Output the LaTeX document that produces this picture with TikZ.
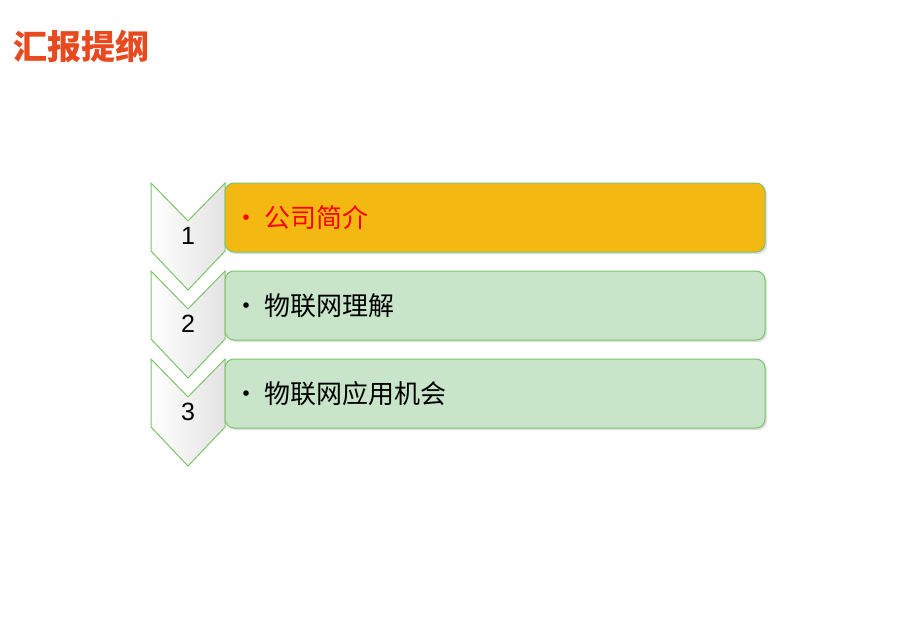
\documentclass[tikz,border=0pt]{standalone}
\usepackage{fontspec}
\setmainfont{Liberation Sans}
\newfontfamily\cjk{Noto Sans CJK SC}
\usepackage{tikz}
\usetikzlibrary{positioning,shadows}
\definecolor{titlered}{HTML}{E8491F}
\definecolor{edgegreen}{HTML}{7CC46A}
\definecolor{boxgreen}{HTML}{C8E5C9}
\definecolor{boxorange}{HTML}{F4B812}
\tikzstyle{chevron} = [draw=edgegreen, line width=1pt, left color=white, right color=gray!22, line join=miter]
\tikzstyle{item} = [rectangle, draw=edgegreen, line width=1pt, fill=boxgreen, rounded corners=9pt, minimum width=540pt, minimum height=69pt, drop shadow={shadow xshift=2pt, shadow yshift=-2pt, opacity=0.25}]
\tikzstyle{label} = [font=\cjk\fontsize{26pt}{30pt}\selectfont, anchor=west, inner sep=0pt]
\tikzstyle{num} = [font=\fontsize{25pt}{28pt}\selectfont, inner sep=0pt]

\begin{document}
\begin{tikzpicture}[x=1pt, y=-1pt]
					\useasboundingbox (0,0) rectangle (920,642);
					\fill[white] (0,0) rectangle (920,642);
					% title
					\node [font=\cjk\bfseries\fontsize{34pt}{38pt}\selectfont, text=titlered, anchor=west, inner sep=0pt] (title) at (13,46) {汇报提纲};
					% chevrons
					\path [chevron] (151,183) -- (188,221) -- (225,183) -- (225,251) -- (188,290) -- (151,251) -- cycle;
					\path [chevron] (151,271) -- (188,309) -- (225,271) -- (225,339) -- (188,378) -- (151,339) -- cycle;
					\path [chevron] (151,359) -- (188,397) -- (225,359) -- (225,427) -- (188,466) -- (151,427) -- cycle;
					\node [num] (one) at (188,236) {1};
					\node [num] (two) at (188,324) {2};
					\node [num] (three) at (188,412) {3};
					% boxes
					\node [item, fill=boxorange] (intro) at (495,217.5) {};
					\node [item] (understand) at (495,305.5) {};
					\node [item] (chance) at (495,393.5) {};
					\node [label, text=red, right=9pt of intro.west] (introtext) {•\hspace{5pt}公司简介};
					\node [label, right=9pt of understand.west] (understandtext) {•\hspace{5pt}物联网理解};
					\node [label, right=9pt of chance.west] (chancetext) {•\hspace{5pt}物联网应用机会};
				\end{tikzpicture}
\end{document}
